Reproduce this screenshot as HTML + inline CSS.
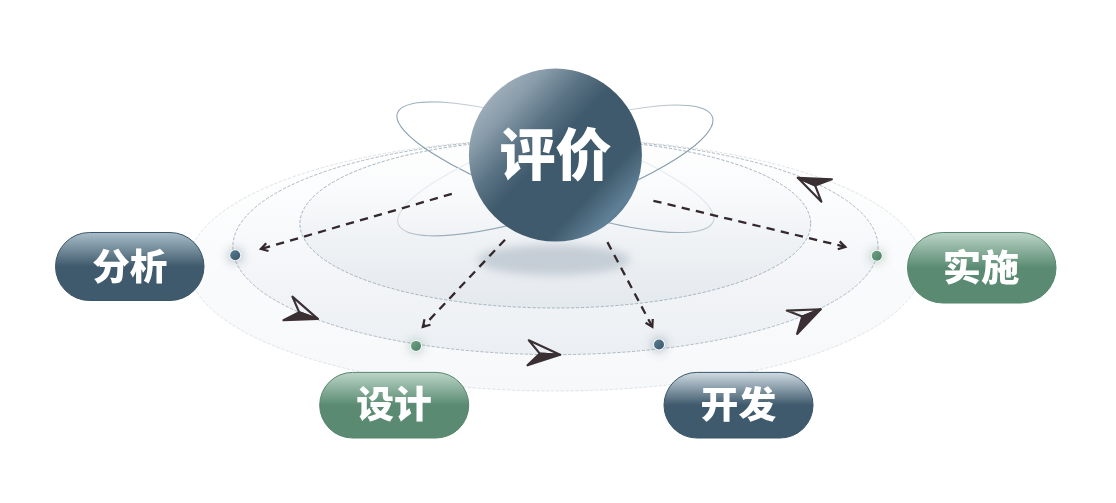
<!DOCTYPE html>
<html lang="zh-CN">
<head>
<meta charset="utf-8">
<title>评价</title>
<style>
  html,body{margin:0;padding:0;background:#fff;}
  body{width:1116px;height:503px;overflow:hidden;position:relative;}
  svg{position:absolute;left:0;top:0;display:block;}
  text{font-family:"Liberation Sans","Noto Sans CJK SC",sans-serif;font-weight:900;fill:#fff;}
</style>
</head>
<body>
<svg width="1116" height="503" viewBox="0 0 1116 503">
  <defs>
    <linearGradient id="gOuter" x1="0" y1="0" x2="0" y2="1">
      <stop offset="0" stop-color="#ffffff"/>
      <stop offset="0.45" stop-color="#fafbfc"/>
      <stop offset="1" stop-color="#f7f8fa"/>
    </linearGradient>
    <linearGradient id="gMid" x1="0" y1="0" x2="0" y2="1">
      <stop offset="0" stop-color="#ffffff"/>
      <stop offset="0.3" stop-color="#fbfcfd"/>
      <stop offset="0.62" stop-color="#f3f5f8"/>
      <stop offset="1" stop-color="#ebeff3"/>
    </linearGradient>
    <linearGradient id="gIn" x1="0" y1="0" x2="0" y2="1">
      <stop offset="0" stop-color="#ffffff"/>
      <stop offset="0.28" stop-color="#fafbfc"/>
      <stop offset="0.6" stop-color="#eff2f5"/>
      <stop offset="1" stop-color="#e4e9ee"/>
    </linearGradient>
    <linearGradient id="gBlue" x1="0" y1="0" x2="0" y2="1">
      <stop offset="0" stop-color="#a9bdc9"/>
      <stop offset="0.5" stop-color="#3f5a6c"/>
      <stop offset="1" stop-color="#3f5a6c"/>
    </linearGradient>
    <linearGradient id="gBlue2" x1="0" y1="0" x2="0" y2="1">
      <stop offset="0" stop-color="#cfdbe3"/>
      <stop offset="0.5" stop-color="#3f5a6c"/>
      <stop offset="1" stop-color="#3f5a6c"/>
    </linearGradient>
    <linearGradient id="gGreen" x1="0" y1="0" x2="0" y2="1">
      <stop offset="0" stop-color="#bcd5c8"/>
      <stop offset="0.5" stop-color="#5a8b72"/>
      <stop offset="1" stop-color="#5a8b72"/>
    </linearGradient>
    <linearGradient id="gBall" gradientUnits="userSpaceOnUse" x1="492" y1="95.7" x2="619" y2="214.7">
      <stop offset="0" stop-color="#9dadb8"/>
      <stop offset="0.12" stop-color="#899caa"/>
      <stop offset="0.3" stop-color="#5b7485"/>
      <stop offset="0.46" stop-color="#3f5a6c"/>
      <stop offset="0.8" stop-color="#3f5a6c"/>
      <stop offset="0.97" stop-color="#5f8096"/>
      <stop offset="1" stop-color="#5b7c92"/>
    </linearGradient>
    <linearGradient id="gDotB" x1="0" y1="0" x2="1" y2="1">
      <stop offset="0" stop-color="#5a7d92"/>
      <stop offset="1" stop-color="#39566a"/>
    </linearGradient>
    <linearGradient id="gDotG" x1="0" y1="0" x2="1" y2="1">
      <stop offset="0" stop-color="#72a389"/>
      <stop offset="1" stop-color="#4b7e63"/>
    </linearGradient>
    <linearGradient id="orbA" gradientUnits="userSpaceOnUse" x1="5.24" y1="-39.3" x2="-5.24" y2="39.3">
      <stop offset="0" stop-color="#e6ebef"/>
      <stop offset="0.3" stop-color="#bfcbd3"/>
      <stop offset="0.55" stop-color="#a0b2be"/>
      <stop offset="1" stop-color="#879dab"/>
    </linearGradient>
    <linearGradient id="orbB" gradientUnits="userSpaceOnUse" x1="-5.24" y1="-39.3" x2="5.24" y2="39.3">
      <stop offset="0" stop-color="#e6ebef"/>
      <stop offset="0.3" stop-color="#bfcbd3"/>
      <stop offset="0.55" stop-color="#a0b2be"/>
      <stop offset="1" stop-color="#879dab"/>
    </linearGradient>
    <filter id="blurS" x="-50%" y="-100%" width="200%" height="300%">
      <feGaussianBlur stdDeviation="5"/>
    </filter>
    <filter id="blurD" x="-200%" y="-200%" width="500%" height="500%">
      <feGaussianBlur stdDeviation="4"/>
    </filter>
    <filter id="tsh" x="-5%" y="-5%" width="110%" height="110%" color-interpolation-filters="sRGB">
      <feOffset dx="0" dy="0"/>
    </filter>
  </defs>

  <!-- orbit plates -->
  <ellipse cx="555.3" cy="265" rx="367" ry="126" fill="url(#gOuter)" stroke="#dfe3e6" stroke-width="1" stroke-dasharray="3.2 1.7"/>
  <ellipse cx="555.4" cy="246.9" rx="322.6" ry="107.7" fill="url(#gMid)" stroke="#adbac3" stroke-width="1" stroke-dasharray="3.2 1.7"/>
  <ellipse cx="555.3" cy="223.7" rx="255.4" ry="84.3" fill="url(#gIn)" stroke="#a5b4be" stroke-width="1" stroke-dasharray="3.2 1.7"/>

  <!-- ball shadow -->
  <ellipse cx="553.7" cy="260" rx="76" ry="15.5" fill="#c5cdd6" filter="url(#blurS)"/>

  <!-- atom orbits -->
  <g transform="translate(555.4 167.2) rotate(18.9)" fill="none" stroke-width="1.1">
    <ellipse cx="0" cy="0" rx="167" ry="38.7" stroke="url(#orbA)"/>
  </g>
  <g transform="translate(555.3 170.4) rotate(-18.8)" fill="none" stroke-width="1.1">
    <ellipse cx="0" cy="0" rx="166" ry="39.8" stroke="url(#orbB)"/>
  </g>

  <!-- dashed connectors -->
  <g fill="none" stroke="#33282c" stroke-width="2.3" stroke-dasharray="8.3 6.25">
    <path d="M451.8 193.9 L260.3 249.2"/>
    <path d="M505.0 239.7 L422.4 327.3"/>
    <path d="M607.4 242.1 L652.6 327.3"/>
    <path d="M653.4 200.8 L845.9 247.0"/>
  </g>
  <g transform="translate(258.7 249.6) rotate(163.9)"><path d="M-9.0 -4.07 L-2.23 0 L-9.0 4.07" fill="none" stroke="#33282c" stroke-width="2.2" stroke-linecap="butt" stroke-linejoin="miter" stroke-miterlimit="10"/></g>
  <g transform="translate(421.3 328.5) rotate(133.3)"><path d="M-9.0 -4.07 L-2.23 0 L-9.0 4.07" fill="none" stroke="#33282c" stroke-width="2.2" stroke-linecap="butt" stroke-linejoin="miter" stroke-miterlimit="10"/></g>
  <g transform="translate(653.4 328.8) rotate(62.0)"><path d="M-9.0 -4.07 L-2.23 0 L-9.0 4.07" fill="none" stroke="#33282c" stroke-width="2.2" stroke-linecap="butt" stroke-linejoin="miter" stroke-miterlimit="10"/></g>
  <g transform="translate(847.5 247.4) rotate(13.5)"><path d="M-9.0 -4.07 L-2.23 0 L-9.0 4.07" fill="none" stroke="#33282c" stroke-width="2.2" stroke-linecap="butt" stroke-linejoin="miter" stroke-miterlimit="10"/></g>

  <!-- navigation arrows -->
  <g stroke="#3a2f33" stroke-width="2.15" stroke-linejoin="round" stroke-linecap="round">
    <path d="M317.8 318.9 L292.4 296.6 L299.2 312.2 Z" fill="none"/>
    <path d="M317.8 318.9 L299.2 312.2 L283.5 320.2 Z" fill="#3a2f33"/>
    <path d="M560.1 354.7 L528.8 340.3 L539.8 353.6 Z" fill="none"/>
    <path d="M560.1 354.7 L539.8 353.6 L527.5 365.3 Z" fill="#3a2f33"/>
    <path d="M820.7 309.3 L786.8 310.6 L802.3 316.5 Z" fill="none"/>
    <path d="M820.7 309.3 L802.3 316.5 L797.1 333.9 Z" fill="#3a2f33"/>
    <path d="M797.8 177.8 L821.4 201.7 L815.2 185.6 Z" fill="none"/>
    <path d="M797.8 177.8 L815.2 185.6 L831.9 179.2 Z" fill="#3a2f33"/>
  </g>

  <!-- dots -->
  <g>
    <circle cx="235.2" cy="255.7" r="8.5" fill="#3f5a6c" fill-opacity="0.26" filter="url(#blurD)"/>
    <circle cx="235.2" cy="255.2" r="5.9" fill="#ffffff" fill-opacity="0.85"/>
    <circle cx="235.2" cy="255.2" r="5" fill="url(#gDotB)"/>
    <circle cx="416" cy="346.4" r="8.5" fill="#5a8b72" fill-opacity="0.26" filter="url(#blurD)"/>
    <circle cx="416" cy="345.9" r="5.9" fill="#ffffff" fill-opacity="0.85"/>
    <circle cx="416" cy="345.9" r="5" fill="url(#gDotG)"/>
    <circle cx="659" cy="345.0" r="8.5" fill="#3f5a6c" fill-opacity="0.26" filter="url(#blurD)"/>
    <circle cx="659" cy="344.5" r="5.9" fill="#ffffff" fill-opacity="0.85"/>
    <circle cx="659" cy="344.5" r="5" fill="url(#gDotB)"/>
    <circle cx="876.8" cy="256.2" r="8.5" fill="#5a8b72" fill-opacity="0.26" filter="url(#blurD)"/>
    <circle cx="876.8" cy="255.7" r="5.9" fill="#ffffff" fill-opacity="0.85"/>
    <circle cx="876.8" cy="255.7" r="5" fill="url(#gDotG)"/>
  </g>

  <!-- centre ball -->
  <circle cx="555.4" cy="155.1" r="86.5" fill="url(#gBall)"/>
  <text x="555.6" y="174.5" font-size="56" text-anchor="middle" filter="url(#tsh)">评价</text>

  <!-- pills -->
  <rect x="55.5" y="232.5" width="148.5" height="68" rx="34" ry="34" fill="url(#gBlue)" stroke="#3a5568" stroke-width="1"/>
  <text transform="translate(129.8 279.6) scale(1 0.965)" font-size="37.6" text-anchor="middle" filter="url(#tsh)">分析</text>

  <rect x="907.5" y="232.5" width="148.5" height="70.5" rx="35.2" ry="35.2" fill="url(#gGreen)" stroke="#55866d" stroke-width="1"/>
  <text transform="translate(981.1 281) scale(1.02 0.977)" font-size="37.6" text-anchor="middle" filter="url(#tsh)">实施</text>

  <rect x="319.7" y="372.4" width="149" height="65.6" rx="32.8" ry="32.8" fill="url(#gGreen)" stroke="#55866d" stroke-width="1"/>
  <text transform="translate(394.1 418.3) scale(1.006 0.99)" font-size="37.6" text-anchor="middle" filter="url(#tsh)">设计</text>

  <rect x="664" y="372.4" width="149" height="65.6" rx="32.8" ry="32.8" fill="url(#gBlue2)" stroke="#3a5568" stroke-width="1"/>
  <text transform="translate(738.4 418.05) scale(1.007 0.97)" font-size="37.6" text-anchor="middle" filter="url(#tsh)">开发</text>
</svg>
</body>
</html>
